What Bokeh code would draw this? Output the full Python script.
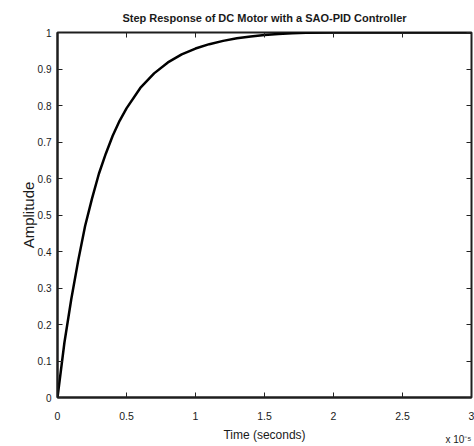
from bokeh.plotting import figure
from bokeh.models import Range1d, LinearAxis, FixedTicker, Title
from bokeh.embed import file_html
from bokeh.resources import INLINE

# Data (time in units of 1e-5 s)
time_vals = [0, 0.05, 0.1, 0.15, 0.2, 0.25, 0.3, 0.35, 0.4, 0.45, 0.5, 0.6, 0.7,
             0.8, 0.9, 1.0, 1.1, 1.2, 1.3, 1.4, 1.5, 1.6, 1.7, 1.8, 2.0, 2.5, 3.0]
amplitude = [0, 0.15, 0.27, 0.375, 0.47, 0.545, 0.613, 0.668, 0.717, 0.758, 0.792,
             0.848, 0.888, 0.918, 0.940, 0.956, 0.968, 0.977, 0.984, 0.989, 0.993,
             0.996, 0.998, 0.999, 1.0, 1.0, 1.0]

x_ticks = [0, 0.5, 1, 1.5, 2, 2.5, 3]
x_tick_labels = ["0", "0.5", "1", "1.5", "2", "2.5", "3"]
y_ticks = [0, 0.1, 0.2, 0.3, 0.4, 0.5, 0.6, 0.7, 0.8, 0.9, 1.0]
y_tick_labels = ["0", "0.1", "0.2", "0.3", "0.4", "0.5", "0.6", "0.7", "0.8", "0.9", "1"]

title_text = "Step Response of DC Motor with a SAO-PID Controller"
x_label = "Time (seconds)"
y_label = "Amplitude"
exp_text = "x 10\u207b\u2075"

FONT = "Liberation Sans"
TXT = "#1a1a1a"

p = figure(width=474, height=446, output_backend="svg", toolbar_location=None,
           x_range=Range1d(0, 3), y_range=Range1d(0, 1),
           min_border_left=57, min_border_right=3, min_border_top=32,
           min_border_bottom=49)

p.background_fill_color = "white"
p.border_fill_color = "white"
p.outline_line_color = "#1e1e1e"
p.outline_line_width = 2
p.xgrid.visible = False
p.ygrid.visible = False

p.line(time_vals, amplitude, line_color="black", line_width=2.5)

def style_axis(ax, ticks, labels, standoff):
    ax.ticker = FixedTicker(ticks=ticks)
    ax.major_label_overrides = {t: l for t, l in zip(ticks, labels)}
    ax.major_tick_in = 5
    ax.major_tick_out = 0
    ax.minor_tick_line_color = None
    ax.major_tick_line_color = "#222222"
    ax.axis_line_color = "#1e1e1e"
    ax.axis_line_width = 2
    ax.major_label_text_font = FONT
    ax.major_label_text_font_size = "10px"
    ax.major_label_text_color = TXT
    ax.major_label_standoff = standoff
    ax.axis_label_text_font = FONT
    ax.axis_label_text_font_style = "normal"
    ax.axis_label_text_color = TXT

xa = p.xaxis[0]
style_axis(xa, x_ticks, x_tick_labels, 14)
xa.major_label_text_font_size = "10.5px"
xa.axis_label = x_label
xa.axis_label_text_font_size = "12px"
xa.axis_label_standoff = 5

ya = p.yaxis[0]
style_axis(ya, y_ticks, y_tick_labels, 6)
ya.axis_label = y_label
ya.axis_label_text_font_size = "15px"
ya.axis_label_standoff = -2

# mirrored inward ticks on top and right, without labels (added first: next to frame)
top = LinearAxis()
style_axis(top, x_ticks, [""] * len(x_ticks), 0)
top.axis_line_color = None
p.add_layout(top, "above")
right = LinearAxis()
style_axis(right, y_ticks, [""] * len(y_ticks), 0)
right.axis_line_color = None
p.add_layout(right, "right")

# main title (outer, above the top axis)
p.add_layout(Title(text=title_text, text_font=FONT, text_font_size="11px",
                   text_font_style="bold", text_color=TXT, align="center",
                   standoff=17), "above")

# exponent note under the right end of the x axis
p.add_layout(Title(text=exp_text, text_font=FONT, text_font_size="10px",
                   text_font_style="normal", text_color=TXT, align="right",
                   vertical_align="top", standoff=-22), "below")

open("out.html", "w").write(file_html(p, INLINE))
